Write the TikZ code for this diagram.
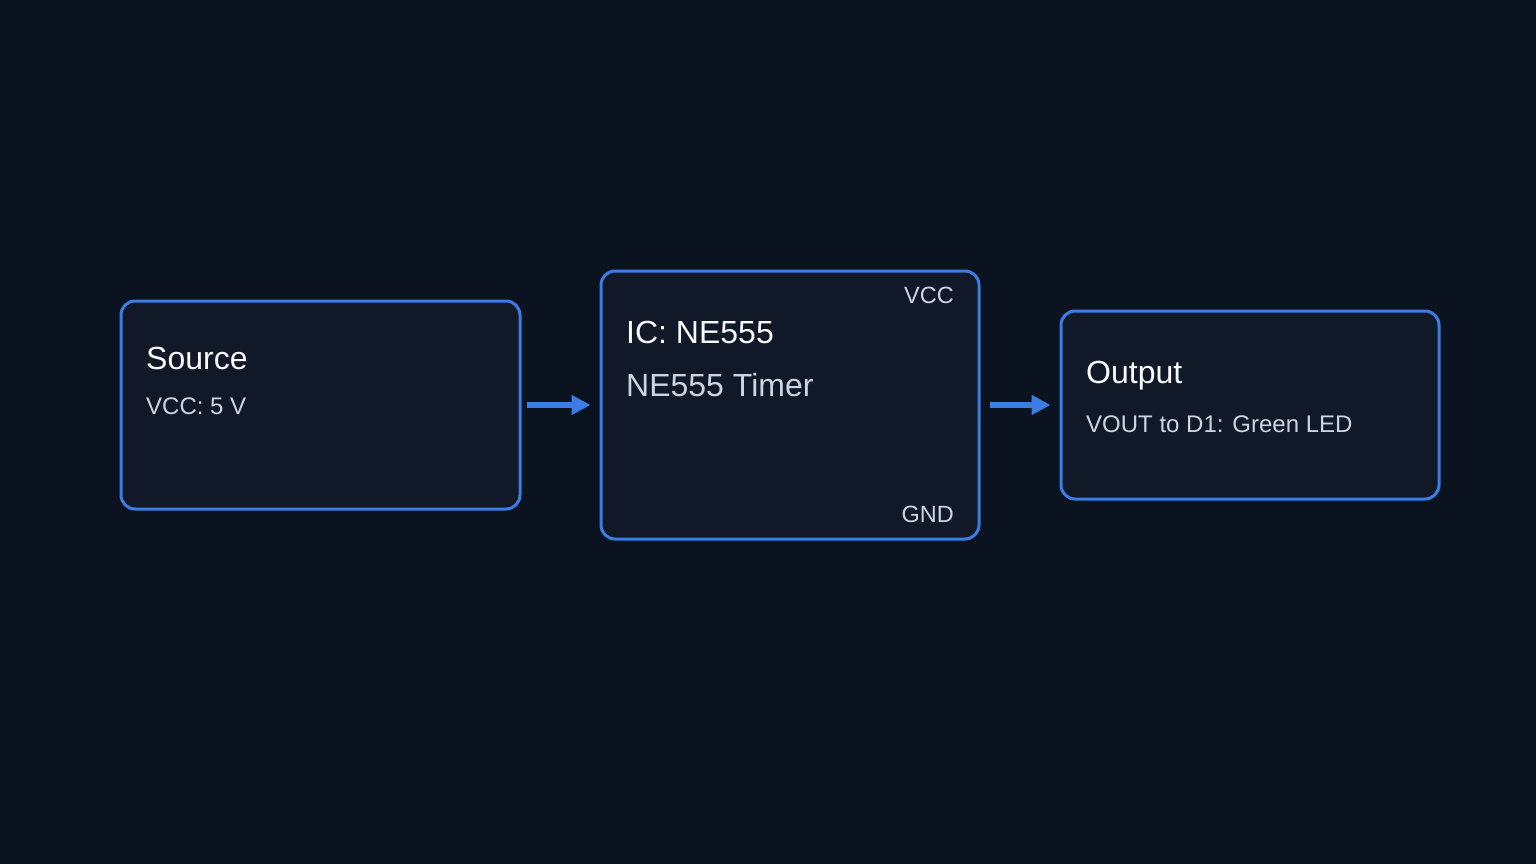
\documentclass[tikz,border=0pt]{standalone}
\usepackage{fontspec}
\setmainfont{Liberation Sans}
\usetikzlibrary{arrows.meta}
\definecolor{bg}{HTML}{0B1320}
\definecolor{boxfill}{HTML}{111827}
\definecolor{edge}{HTML}{3B7DE3}
\definecolor{title}{HTML}{F8FAFC}
\definecolor{sub}{HTML}{CBD5E1}
\tikzset{
  block/.style={draw=edge, fill=boxfill, line width=3pt, rounded corners=14pt, inner sep=0pt},
  ttl/.style={anchor=base west, inner sep=0pt, text=title, font=\fontsize{32}{38}\selectfont},
  subt/.style={anchor=base west, inner sep=0pt, text=sub, font=\fontsize{24}{28}\selectfont},
  bigsub/.style={anchor=base west, inner sep=0pt, text=sub, font=\fontsize{32}{38}\selectfont},
  pin/.style={anchor=base east, inner sep=0pt, text=sub, font=\fontsize{23.5}{28}\selectfont},
  flow/.style={draw=edge, line width=5.5pt, -{Triangle[length=19pt,width=19pt]}}
}
\begin{document}
\begin{tikzpicture}[x=1pt,y=-1pt]
\fill[bg] (0,0) rectangle (1536,864);
\useasboundingbox (0,0) rectangle (1536,864);
% boxes
\node[block, minimum width=399pt, minimum height=208pt] (src) at (320.5,405) {};
\node[block, minimum width=378pt, minimum height=268pt] (ic) at (790,405) {};
\node[block, minimum width=378pt, minimum height=188pt] (out) at (1250,405) {};
% texts
\node[ttl] (srcT) at (146,369) {Source};
\node[subt] (srcS) at (146,414) {VCC: 5 V};
\node[ttl] (icT) at (626,343) {IC: NE555};
\node[bigsub] (icS) at (626,396) {NE555 Timer};
\node[pin] (vcc) at (954,303) {VCC};
\node[pin] (gnd) at (954,522) {GND};
\node[ttl] (outT) at (1086,383) {Output};
\node[subt] (outS) at (1086,432) {VOUT to D1: Green LED};
% connectors
\draw[flow, shorten <=5pt, shorten >=9pt] (src.east) -- (ic.west);
\draw[flow, shorten <=9pt, shorten >=9pt] (ic.east) -- (out.west);
\end{tikzpicture}
\end{document}
